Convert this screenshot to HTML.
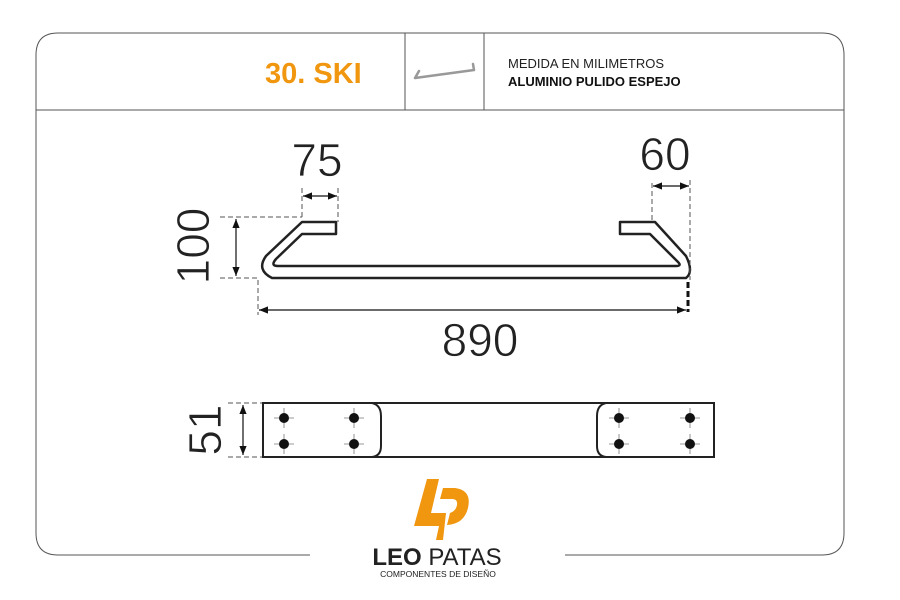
<!DOCTYPE html>
<html><head><meta charset="utf-8"><style>
html,body{margin:0;padding:0;background:#fff;}
svg{display:block;}
text{font-family:"Liberation Sans",sans-serif;}
</style></head><body>
<svg width="900" height="600" viewBox="0 0 900 600">
<defs>
<marker id="a" viewBox="0 0 10 10" refX="10" refY="5" markerWidth="9" markerHeight="9" orient="auto-start-reverse" markerUnits="userSpaceOnUse"><path d="M0,1 L10,5 L0,9 z" fill="#111"/></marker>
</defs>
<path d="M310,555 H58 Q36,555 36,533 V55 Q36,33 58,33 H822 Q844,33 844,55 V533 Q844,555 822,555 H565" fill="none" stroke="#555" stroke-width="1"/>
<line x1="36" y1="110" x2="844" y2="110" stroke="#555" stroke-width="1"/>
<line x1="405" y1="33" x2="405" y2="110" stroke="#555"/>
<line x1="484" y1="33" x2="484" y2="110" stroke="#555"/>
<text x="265" y="83" font-size="29" font-weight="bold" fill="#f0960f">30. SKI</text>
<path d="M415,78 L474,70 M415,78 L419,71 M474,70 L473,64" stroke="#999" stroke-width="2.5" fill="none" stroke-linecap="round"/>
<text x="508" y="68" font-size="13" fill="#222">MEDIDA EN MILIMETROS</text>
<text x="508" y="86" font-size="13" font-weight="bold" fill="#111">ALUMINIO PULIDO ESPEJO</text>
<path d="M336,222 H302 L266,256 Q256,270 272,278 H686 Q694,272 686,256 L655,222 H620 V234 H650 L678,262 Q682,266 676,266 H278 Q270,266 276,259 L302,234 H336 Z" fill="none" stroke="#222" stroke-width="2.5" stroke-linejoin="round"/>
<g stroke="#555" stroke-width="1" stroke-dasharray="5,3" fill="none">
<line x1="220" y1="217" x2="302" y2="217"/>
<line x1="220" y1="278" x2="258" y2="278"/>
<line x1="302" y1="188" x2="302" y2="217"/>
<line x1="338" y1="188" x2="338" y2="222"/>
<line x1="652" y1="183" x2="652" y2="222"/>
<line x1="690" y1="180" x2="690" y2="280"/>
<line x1="258" y1="280" x2="258" y2="315"/>
<line x1="228" y1="403" x2="263" y2="403"/>
<line x1="228" y1="457" x2="263" y2="457"/>
</g>
<line x1="688" y1="282" x2="688" y2="312" stroke="#111" stroke-width="3" stroke-dasharray="6,3"/>
<g stroke="#111" stroke-width="1.2">
<line x1="236" y1="219" x2="236" y2="276" marker-start="url(#a)" marker-end="url(#a)"/>
<line x1="303" y1="196" x2="337" y2="196" marker-start="url(#a)" marker-end="url(#a)"/>
<line x1="653" y1="186" x2="689" y2="186" marker-start="url(#a)" marker-end="url(#a)"/>
<line x1="259" y1="310" x2="686" y2="310" marker-start="url(#a)" marker-end="url(#a)"/>
<line x1="243" y1="405" x2="243" y2="455" marker-start="url(#a)" marker-end="url(#a)"/>
</g>
<g font-size="46" fill="#222" stroke="#fff" stroke-width="0.8">
<text x="317" y="176" text-anchor="middle">75</text>
<text x="665" y="170" text-anchor="middle">60</text>
<text x="480" y="356" text-anchor="middle">890</text>
<text transform="translate(209,246) rotate(-90)" text-anchor="middle">100</text>
<text transform="translate(221,430) rotate(-90)" text-anchor="middle">51</text>
</g>
<rect x="263" y="403" width="451" height="54" fill="none" stroke="#222" stroke-width="2"/>
<path d="M372,403 Q381,405 381,416 V446 Q381,456 372,457" fill="none" stroke="#222" stroke-width="2"/>
<path d="M606,403 Q597,405 597,416 V446 Q597,456 606,457" fill="none" stroke="#222" stroke-width="2"/>
<g stroke="#777" stroke-width="0.8">
<path d="M274,418h20M284,408v20M274,444h20M284,434v20M344,418h20M354,408v20M344,444h20M354,434v20M609,418h20M619,408v20M609,444h20M619,434v20M680,418h20M690,408v20M680,444h20M690,434v20"/>
</g>
<g fill="#111">
<circle cx="284" cy="418" r="5"/><circle cx="284" cy="444" r="5"/>
<circle cx="354" cy="418" r="5"/><circle cx="354" cy="444" r="5"/>
<circle cx="619" cy="418" r="5"/><circle cx="619" cy="444" r="5"/>
<circle cx="690" cy="418" r="5"/><circle cx="690" cy="444" r="5"/>
</g>
<path d="M427,479 H439 L431,513 H446 L443,540 H436 L439,526 H414 Z" fill="#f0960f"/>
<path d="M443,488 H455 Q472,490 468,508 Q464,524 447,525 L450,513 Q456,511 457,505 Q458,499 452,499 H440 Z" fill="#f0960f"/>
<text x="437" y="565" font-size="24" text-anchor="middle" fill="#222"><tspan font-weight="bold">LEO</tspan> PATAS</text>
<text x="438" y="577" font-size="8.5" text-anchor="middle" fill="#222">COMPONENTES DE DISEÑO</text>
</svg>
</body></html>
